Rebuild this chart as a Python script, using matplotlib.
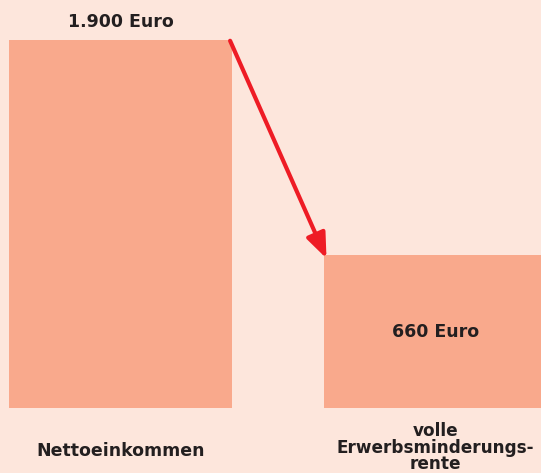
import matplotlib.pyplot as plt

categories = ["Nettoeinkommen", "volle\nErwerbsminderungs-\nrente"]
values = [1900, 660]
value_labels = ["1.900 Euro", "660 Euro"]

bg = "#fde6dc"
bar_color = "#f9a98c"
text_color = "#231f20"
arrow_color = "#ee1c25"

plt.rcParams["font.family"] = ["DejaVu Sans"]
plt.rcParams["font.weight"] = "bold"

fig = plt.figure(figsize=(5.41, 4.73), dpi=100, facecolor=bg)
ax = fig.add_axes([0, 0, 1, 1])
ax.set_facecolor(bg)

# axis does not start at zero in the original
base = -222.5
width = 0.708
x = [0, 1]
ax.bar(x, [v - base for v in values], width, bottom=base, color=bar_color)
ax.set_xlim(-0.3825, 1.335)
ax.set_ylim(-597, 2130)
ax.axis("off")

fs = 12.5
# value labels
ax.text(x[0], values[0] + 105, value_labels[0], ha="center", va="center",
        fontsize=fs, color=text_color)
ax.text(x[1], values[1] - 445, value_labels[1], ha="center", va="center",
        fontsize=fs, color=text_color)

# category labels
ax.text(x[0], -468, categories[0], ha="center", va="center",
        fontsize=fs, color=text_color)
ax.text(x[1], -452, categories[1], ha="center", va="center",
        fontsize=12.2, color=text_color, linespacing=0.9)

# arrow from top of first bar to top of second
ax.annotate("", xy=(x[1] - width / 2 + 0.008, values[1] - 20),
            xytext=(x[0] + width / 2 - 0.006, values[0] - 5),
            arrowprops=dict(arrowstyle="-|>,head_length=1.5,head_width=0.6",
                            color=arrow_color, lw=3, shrinkA=0, shrinkB=0))

fig.savefig("out.png", dpi=100, facecolor=bg)
